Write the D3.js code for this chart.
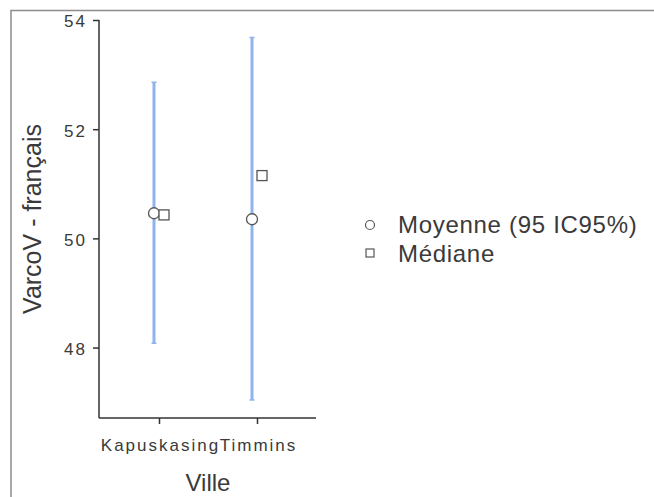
<!DOCTYPE html>
<html>
<head>
<meta charset="utf-8">
<script src="https://cdn.jsdelivr.net/npm/d3@7"></script>
<style>
  body { margin: 0; background: #fff; }
  svg { display: block; font-family: "Liberation Sans", Arial, sans-serif; }
</style>
</head>
<body>
<svg id="fig" width="654" height="497"></svg>
<script>
// values
var villes = ['Kapuskasing', 'Timmins'];
var moyennes = [50.46, 50.35];
var icBas = [48.08, 47.04];
var icHaut = [52.86, 53.68];
var medianes = [50.43, 51.15];
var yTicks = [48, 50, 52, 54];
var legendLabels = ['Moyenne (95 IC95%)', 'Médiane'];

var rows = villes.map(function(v, i) {
  return {ville: v, moy: moyennes[i], lo: icBas[i], hi: icHaut[i], med: medianes[i]};
});

var svg = d3.select('#fig');

// outer frame (only top and left edges visible)
svg.append('path')
  .attr('d', 'M11,497V10.5H654')
  .attr('fill', 'none')
  .attr('stroke', '#8c8c8c')
  .attr('stroke-width', 1.5);

var y = d3.scaleLinear().domain([46.71, 54]).range([418, 20]);
var x = d3.scalePoint().domain(villes).range([159, 257]);
var dodge = 5;

var axisColor = '#333';
var textColor = '#3a3a3a';

// y axis
var yAxis = svg.append('g')
  .attr('transform', 'translate(99,0)')
  .call(d3.axisLeft(y).tickValues(yTicks).tickSize(6).tickPadding(6).tickFormat(d3.format('d')));
yAxis.attr('font-family', null).attr('font-size', null);
yAxis.select('.domain').attr('d', 'M0,' + y(54) + 'V' + y.range()[0]).attr('stroke', axisColor).attr('stroke-width', 1.5);
yAxis.selectAll('.tick line').attr('stroke', axisColor).attr('stroke-width', 1.5);
yAxis.selectAll('.tick text').attr('fill', textColor).attr('dy', '0.4em')
  .style('font-size', '17px').style('letter-spacing', '2px');

// x axis
var xAxis = svg.append('g')
  .attr('transform', 'translate(0,418)')
  .call(d3.axisBottom(x).tickSize(6).tickPadding(15));
xAxis.attr('font-family', null).attr('font-size', null);
xAxis.select('.domain').attr('d', 'M99,0H316').attr('stroke', axisColor).attr('stroke-width', 1.5);
xAxis.selectAll('.tick line').attr('stroke', axisColor).attr('stroke-width', 1.5);
xAxis.selectAll('.tick text').attr('fill', textColor).attr('dx', '1px')
  .style('font-size', '17px').style('letter-spacing', '2px');

// axis titles
svg.append('text')
  .attr('x', 208).attr('y', 491)
  .attr('text-anchor', 'middle')
  .attr('fill', textColor)
  .style('font-size', '24px')
  .text('Ville');

svg.append('text')
  .attr('transform', 'translate(41,219) rotate(-90)')
  .attr('text-anchor', 'middle')
  .attr('fill', textColor)
  .style('font-size', '25px')
  .text('VarcoV - français');

// error bars
var bars = svg.append('g');
bars.selectAll('line.ci')
  .data(rows).enter().append('line')
  .attr('class', 'ci')
  .attr('x1', function(d) { return x(d.ville) - dodge; })
  .attr('x2', function(d) { return x(d.ville) - dodge; })
  .attr('y1', function(d) { return y(d.lo); })
  .attr('y2', function(d) { return y(d.hi); })
  .attr('stroke', '#8fb4ec')
  .attr('stroke-width', 3);
['lo', 'hi'].forEach(function(k) {
  bars.selectAll('line.cap-' + k)
    .data(rows).enter().append('line')
    .attr('x1', function(d) { return x(d.ville) - dodge - 2.5; })
    .attr('x2', function(d) { return x(d.ville) - dodge + 2.5; })
    .attr('y1', function(d) { return y(d[k]); })
    .attr('y2', function(d) { return y(d[k]); })
    .attr('stroke', '#8fb4ec')
    .attr('stroke-width', 1.5);
});

// means
svg.append('g').selectAll('circle')
  .data(rows).enter().append('circle')
  .attr('cx', function(d) { return x(d.ville) - dodge; })
  .attr('cy', function(d) { return y(d.moy); })
  .attr('r', 5.5)
  .attr('fill', '#fff')
  .attr('stroke', '#555')
  .attr('stroke-width', 1.3);

// medians
svg.append('g').selectAll('rect')
  .data(rows).enter().append('rect')
  .attr('x', function(d) { return x(d.ville) + dodge - 5; })
  .attr('y', function(d) { return y(d.med) - 5; })
  .attr('width', 10).attr('height', 10)
  .attr('fill', '#fff')
  .attr('stroke', '#555')
  .attr('stroke-width', 1.3);

// legend
var lg = svg.append('g').attr('transform', 'translate(370,0)');
lg.append('circle').attr('cx', 0).attr('cy', 225).attr('r', 4.5)
  .attr('fill', '#fff').attr('stroke', '#555').attr('stroke-width', 1.2);
lg.append('rect').attr('x', -4).attr('y', 249).attr('width', 8).attr('height', 8)
  .attr('fill', '#fff').attr('stroke', '#555').attr('stroke-width', 1.2);
lg.selectAll('text')
  .data(legendLabels).enter().append('text')
  .attr('x', 28)
  .attr('y', function(d, i) { return 233 + i * 28.5; })
  .attr('fill', textColor)
  .style('font-size', '24px')
  .style('letter-spacing', '0.7px')
  .text(function(d) { return d; });
</script>
</body>
</html>
